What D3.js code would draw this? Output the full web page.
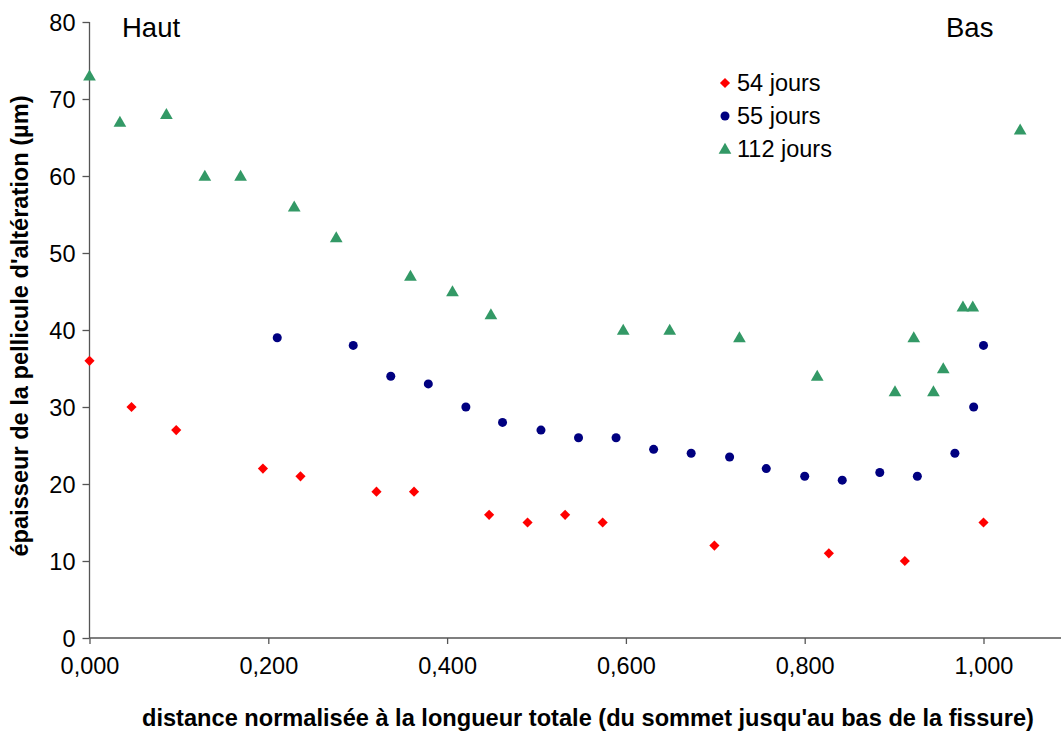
<!DOCTYPE html>
<html><head><meta charset="utf-8">
<script src="https://cdn.jsdelivr.net/npm/d3@7"></script>
<style>body{margin:0;background:#fff}svg{display:block;font-family:"Liberation Sans",Arial,sans-serif}</style>
</head><body><svg id="c" width="1061" height="731"></svg>
<script>
const xTicks = [0, 0.2, 0.4, 0.6, 0.8, 1.0];
const yTicks = [0, 10, 20, 30, 40, 50, 60, 70, 80];
const seriesNames = ["54 jours", "55 jours", "112 jours"];
const x54 = [0, 0.047, 0.097, 0.194, 0.236, 0.321, 0.363, 0.447, 0.490, 0.532, 0.574, 0.699, 0.827, 0.912, 1.000];
const y54 = [36, 30, 27, 22, 21, 19, 19, 16, 15, 16, 15, 12, 11, 10, 15];
const x55 = [0.210, 0.295, 0.337, 0.379, 0.421, 0.462, 0.505, 0.547, 0.589, 0.631, 0.673, 0.716, 0.757, 0.800, 0.842, 0.884, 0.926, 0.968, 0.989, 1.000];
const y55 = [39, 38, 34, 33, 30, 28, 27, 26, 26, 24.5, 24, 23.5, 22, 21, 20.5, 21.5, 21, 24, 30, 38];
const x112 = [0, 0.034, 0.086, 0.129, 0.169, 0.229, 0.276, 0.359, 0.406, 0.449, 0.597, 0.649, 0.727, 0.814, 0.901, 0.922, 0.944, 0.955, 0.977, 0.988, 1.041];
const y112 = [73, 67, 68, 60, 60, 56, 52, 47, 45, 42, 40, 40, 39, 34, 32, 39, 32, 35, 43, 43, 66];

const svg = d3.select("#c");
const x = d3.scaleLinear().domain([0, 1]).range([89.5, 983.5]);
const y = d3.scaleLinear().domain([0, 80]).range([638, 22]);
const axisColor = "#555";
const ff = "Liberation Sans, Arial, sans-serif";

// x axis
const gx = svg.append("g").attr("transform", "translate(0,638)");
gx.append("line").attr("x1", x(0)).attr("x2", 1061).attr("y1", 0).attr("y2", 0).attr("stroke", axisColor).attr("stroke-width", 1.3);
gx.call(d3.axisBottom(x).tickValues(xTicks).tickSize(6).tickSizeOuter(0).tickFormat(d => d3.format(".3f")(d).replace(".", ",")));
gx.select(".domain").remove();
gx.selectAll(".tick line").attr("stroke", axisColor).attr("stroke-width", 1.3);
gx.selectAll(".tick text").attr("font-size", 23.5).attr("fill", "#000").attr("dy", 0).attr("y", 36).attr("font-family", ff);

// y axis
const gy = svg.append("g").attr("transform", "translate(89.5,0)");
gy.call(d3.axisLeft(y).tickValues(yTicks).tickSize(7).tickSizeOuter(0));
gy.select(".domain").attr("stroke", axisColor).attr("stroke-width", 1.3).attr("d", `M0,${y(80)}V${y(0)}`);
gy.selectAll(".tick line").attr("stroke", axisColor).attr("stroke-width", 1.3);
gy.selectAll(".tick text").attr("font-size", 23.5).attr("fill", "#000").attr("x", -14).attr("dy", "0.35em").attr("font-family", ff);

// axis titles
svg.append("text").attr("x", 588).attr("y", 726).attr("text-anchor", "middle").attr("font-size", 23.6).attr("font-weight", "bold").text("distance normalisée à la longueur totale (du sommet jusqu'au bas de la fissure)");
svg.append("text").attr("transform", "translate(28,326) rotate(-90)").attr("text-anchor", "middle").attr("font-size", 23.6).attr("font-weight", "bold").text("épaisseur de la pellicule d'altération (µm)");

// annotations
svg.append("text").attr("x", 122).attr("y", 37).attr("font-size", 27.5).text("Haut");
svg.append("text").attr("x", 946).attr("y", 37).attr("font-size", 27.5).text("Bas");

// markers
const sym = [
  {type: d3.symbolDiamond2, size: 66, color: "#ff0000"},
  {type: d3.symbolCircle, size: 64, color: "#000080"},
  {type: d3.symbolTriangle, size: 70, color: "#339966"}
];
const data = [
  x54.map((v, i) => [v, y54[i]]),
  x55.map((v, i) => [v, y55[i]]),
  x112.map((v, i) => [v, y112[i]])
];
data.forEach((pts, k) => {
  const s = sym[k];
  const gen = d3.symbol().type(s.type).size(s.size);
  svg.append("g").selectAll("path").data(pts).join("path")
    .attr("d", gen)
    .attr("transform", d => `translate(${x(d[0])},${y(d[1]) + (k === 2 ? 1 : 0)})`)
    .attr("fill", s.color);
});

// legend
const lg = svg.append("g");
seriesNames.forEach((n, k) => {
  const cy = 83 + k * 33;
  const s = sym[k];
  lg.append("path").attr("d", d3.symbol().type(s.type).size(s.size)()).attr("transform", `translate(725,${cy + (k === 2 ? 1 : 0)})`).attr("fill", s.color);
  lg.append("text").attr("x", 737).attr("y", cy).attr("dy", "0.35em").attr("font-size", 23.5).attr("font-family", ff).text(n);
});
</script></body></html>
